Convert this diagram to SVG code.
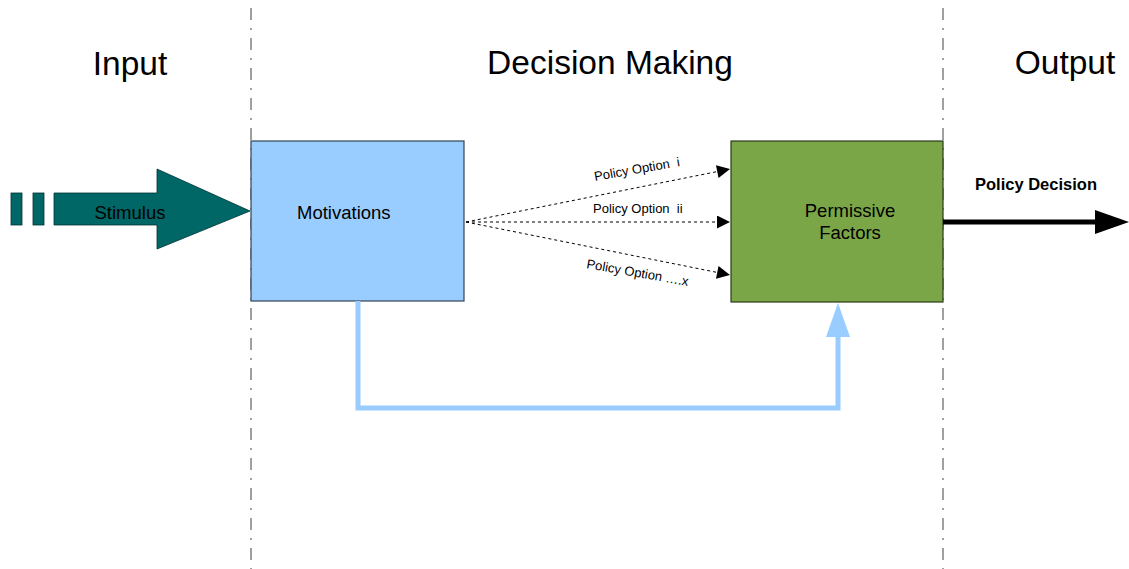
<svg xmlns="http://www.w3.org/2000/svg" width="1129" height="569" viewBox="0 0 1129 569">
<style>
text{font-family:"Liberation Sans",Arial,sans-serif;fill:#000}
.title{font-size:33.5px;text-anchor:middle}
.lbl{font-size:18.5px}
.opt{font-size:13px}
.sep{stroke:#808080;stroke-width:1.5;stroke-dasharray:12,8,2,8;fill:none}
.dot{stroke:#000;stroke-width:1;stroke-dasharray:3,3;fill:none}
</style>
<defs>
<marker id="ah" viewBox="0 0 10 10" refX="10" refY="5" markerWidth="22" markerHeight="13" markerUnits="userSpaceOnUse" orient="auto"><path d="M0,0L10,5L0,10z" fill="#000"/></marker>
</defs>
<rect width="1129" height="569" fill="#fff"/>
<g id="separators">
<line class="sep" x1="251" y1="8" x2="251" y2="569"/>
<line class="sep" x1="943" y1="8" x2="943" y2="569"/>
</g>
<g id="titles">
<text class="title" x="130" y="75">Input</text>
<text class="title" x="610" y="74">Decision Making</text>
<text class="title" x="1065" y="74">Output</text>
</g>
<g id="stimulus">
<rect x="11" y="193" width="11" height="32" fill="#006666" stroke="#003333" stroke-width="0.8"/>
<rect x="33" y="193" width="11" height="32" fill="#006666" stroke="#003333" stroke-width="0.8"/>
<path d="M54,193H157V169L250,211L157,249V225H54Z" fill="#006666" stroke="#003333" stroke-width="0.8"/>
<text class="lbl" x="130" y="219" text-anchor="middle">Stimulus</text>
</g>
<g id="motivations">
<rect x="251" y="141" width="213" height="160" fill="#99ccff" stroke="#334455" stroke-width="1.2"/>
<text class="lbl" x="297" y="219">Motivations</text>
</g>
<g id="permissive">
<rect x="731" y="141" width="212" height="161" fill="#7ba647" stroke="#2a3a1a" stroke-width="1.2"/>
<text class="lbl" x="850" y="217" text-anchor="middle">Permissive</text>
<text class="lbl" x="850" y="239" text-anchor="middle">Factors</text>
</g>
<g id="connectors">
<line class="dot" x1="466" y1="222" x2="730" y2="169" marker-end="url(#ah)"/>
<line class="dot" x1="466" y1="222" x2="730" y2="222" marker-end="url(#ah)"/>
<line class="dot" x1="466" y1="222" x2="730" y2="275" marker-end="url(#ah)"/>
<text class="opt" xml:space="preserve" transform="translate(595,181) rotate(-10)">Policy Option  i</text>
<text class="opt" xml:space="preserve" x="593" y="213">Policy Option  ii</text>
<text class="opt" xml:space="preserve" transform="translate(586,268) rotate(10)">Policy Option ….x</text>
<polyline points="358,301 358,408 838,408 838,336" fill="none" stroke="#99ccff" stroke-width="5"/>
<path d="M838,303L850,337H826Z" fill="#99ccff"/>
<line x1="943" y1="222" x2="1096" y2="222" stroke="#000" stroke-width="5"/>
<path d="M1095,210L1129,222L1095,234Z" fill="#000"/>
<text x="1036" y="190" text-anchor="middle" style="font-size:16.5px;font-weight:bold">Policy Decision</text>
</g>
</svg>
